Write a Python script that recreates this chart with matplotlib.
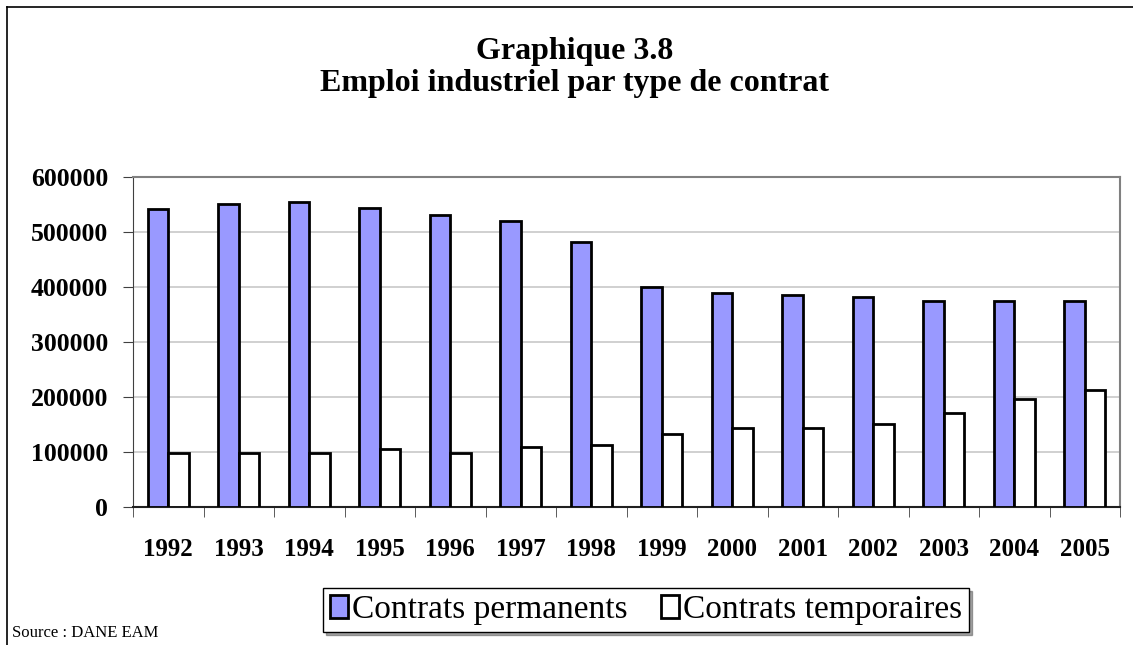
#Emploi industriel par type de contrat - bar chart

import numpy as np
import matplotlib.pyplot as plt
from matplotlib.lines import Line2D

#_________INPUT data_______
years = ["1992", "1993", "1994", "1995", "1996", "1997", "1998",
         "1999", "2000", "2001", "2002", "2003", "2004", "2005"]
permanents = [542000, 551000, 555000, 543000, 531000, 520000, 481000,
              400000, 390000, 386000, 381000, 375000, 375000, 375000]
temporaires = [98000, 98000, 98000, 106000, 98000, 110000, 112000,
               132000, 144000, 143000, 151000, 171000, 196000, 212000]

#_________Figure Style_______________________
plt.rcParams["font.family"] = "serif"
plt.rcParams["font.serif"] = ["Liberation Serif", "DejaVu Serif"]
plt.rcParams["figure.dpi"] = 100

fig = plt.figure(figsize=(11.33, 6.45))
ax = fig.add_axes([133/1133, 1 - 507/645, (1120-133)/1133, (507-177)/645])

x = np.arange(len(years))
w = 0.29
ax.bar(x - w/2, permanents, w, color="#9999FF", edgecolor="black", linewidth=2,
       label="Contrats permanents", zorder=3)
ax.bar(x + w/2, temporaires, w, color="white", edgecolor="black", linewidth=2,
       label="Contrats temporaires", zorder=3)

ax.set_xlim(-0.5, len(years) - 0.5)
ax.set_ylim(0, 600000)
ax.set_yticks(np.arange(0, 600001, 100000))
ax.set_yticklabels([str(v) for v in range(0, 600001, 100000)],
                   fontsize=18.5, fontweight="bold")
ax.set_xticks(x)
ax.set_xticklabels(years, fontsize=18, fontweight="bold")
ax.set_xticks(np.arange(-0.5, len(years)), minor=True)
ax.tick_params(axis="x", which="major", length=0, pad=22)
ax.tick_params(axis="x", which="minor", length=7, direction="out", color="#404040")
ax.tick_params(axis="y", length=7, direction="out", pad=11, color="#404040")
ax.yaxis.grid(True, color="#c8c8c8", linewidth=1.2, zorder=0)

ax.spines["top"].set_color("#808080")
ax.spines["right"].set_color("#808080")
ax.spines["top"].set_linewidth(1.5)
ax.spines["right"].set_linewidth(1.5)
ax.spines["left"].set_color("#404040")
ax.spines["bottom"].set_color("#202020")
ax.spines["bottom"].set_linewidth(1.5)

#title
fig.text(575/1133, 1 - 51/645, "Graphique 3.8", ha="center", va="center",
         fontsize=23, fontweight="bold")
fig.text(575/1133, 1 - 83/645, "Emploi industriel par type de contrat", ha="center",
         va="center", fontsize=23, fontweight="bold")

#legend
leg = fig.legend(loc="center", bbox_to_anchor=(646/1133, 1 - 610/645), ncol=2,
                 fontsize=24, frameon=True, fancybox=False, shadow=True,
                 handlelength=0.55, handleheight=0.7, handletextpad=0.12,
                 columnspacing=1.0, borderpad=0.2, borderaxespad=0)
leg.get_frame().set_edgecolor("black")
leg.get_frame().set_linewidth(1.0)

#source
fig.text(12/1133, 1 - 633/645, "Source : DANE EAM", ha="left", va="center", fontsize=12)

#outer frame (left and top)
fig.add_artist(Line2D([7/1133, 7/1133], [0, 1 - 7/645], color="black", linewidth=1.2))
fig.add_artist(Line2D([7/1133, 1], [1 - 7/645, 1 - 7/645], color="black", linewidth=1.2))

fig.savefig("out.png")
